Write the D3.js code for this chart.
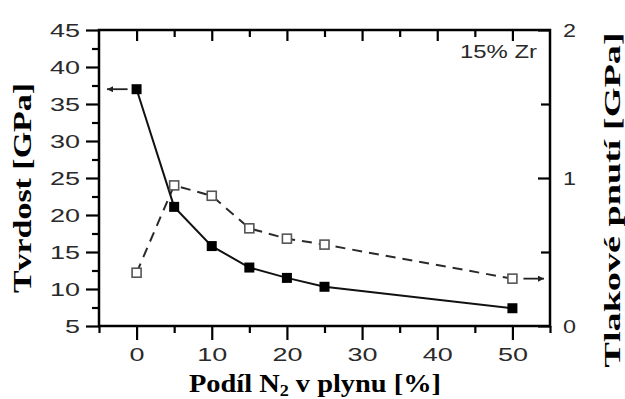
<!DOCTYPE html>
<html><head><meta charset="utf-8">
<script src="https://cdn.jsdelivr.net/npm/d3@7"></script>
<style>body{margin:0;background:#fff} svg{display:block}</style>
</head><body>
<svg id="c" width="625" height="399"></svg>
<script>
// ---- data ----
const nitrogen = [0, 5, 10, 15, 20, 25, 50];
const hardness = [37.0, 21.1, 15.8, 12.9, 11.5, 10.3, 7.4];
const stress = [0.36, 0.95, 0.88, 0.66, 0.59, 0.55, 0.32];
const xMajorTicks = [0, 10, 20, 30, 40, 50];
const yLeftMajorTicks = [5, 10, 15, 20, 25, 30, 35, 40, 45];
const yRightMajorTicks = [0, 1, 2];
const annotation = "15% Zr";
const xTitle = ["Podíl N", "2", " v plynu [%]"];
const yLeftTitle = "Tvrdost [GPa]";
const yRightTitle = "Tlakové pnutí [GPa]";

// ---- layout ----
const L = 99, R = 550, T = 30, B = 326;
const svg = d3.select("#c");
const x = d3.scaleLinear().domain([-5, 55]).range([L, R]);
const yL = d3.scaleLinear().domain([5, 45]).range([B, T]);
const yR = d3.scaleLinear().domain([0, 2]).range([B, T]);

const sans = "'Liberation Sans', Arial, sans-serif";
const serif = "'Liberation Serif', 'Times New Roman', serif";
const labelColor = "#2a2a2a";

function styleAxis(g) {
  g.select(".domain").remove();
  g.selectAll(".tick line").attr("stroke", "#000").attr("stroke-width", 2.2);
  g.selectAll(".tick text").attr("font-family", sans).attr("font-size", 19).attr("fill", labelColor);
}

// frame
svg.append("rect").attr("x", L).attr("y", T).attr("width", R - L).attr("height", B - T)
  .attr("fill", "none").attr("stroke", "#000").attr("stroke-width", 2.5);

// left axis
const gl = svg.append("g").attr("transform", `translate(${L},0)`)
  .call(d3.axisLeft(yL).tickValues(d3.range(5, 45.01, 2.5))
    .tickFormat(d => yLeftMajorTicks.includes(d) ? d : ""));
styleAxis(gl);
gl.selectAll(".tick line").attr("x2", d => yLeftMajorTicks.includes(d) ? -13 : -7);
gl.selectAll(".tick text").attr("x", -19).attr("dy", "0.35em")
  .filter(d => yLeftMajorTicks.includes(d))
  .attr("textLength", d => String(d).length * 15).attr("lengthAdjust", "spacingAndGlyphs");

// bottom axis
const gb = svg.append("g").attr("transform", `translate(0,${B})`)
  .call(d3.axisBottom(x).tickValues(d3.range(-5, 55.01, 5))
    .tickFormat(d => xMajorTicks.includes(d) ? d : ""));
styleAxis(gb);
gb.selectAll(".tick line").attr("y2", d => xMajorTicks.includes(d) ? 14 : 7);
gb.selectAll(".tick text").attr("y", 35).attr("dy", 0)
  .filter(d => xMajorTicks.includes(d))
  .attr("textLength", d => String(d).length * 15).attr("lengthAdjust", "spacingAndGlyphs");

// top axis (inward ticks)
const gt = svg.append("g").attr("transform", `translate(0,${T})`)
  .call(d3.axisTop(x).tickValues(d3.range(0, 50.01, 5)).tickFormat(""));
styleAxis(gt);
gt.selectAll(".tick line").attr("y2", d => xMajorTicks.includes(d) ? 11 : 7);

// right axis (inward ticks)
const gr = svg.append("g").attr("transform", `translate(${R},0)`)
  .call(d3.axisRight(yR).tickValues(d3.range(0, 2.01, 0.5))
    .tickFormat(d => yRightMajorTicks.includes(d) ? d : ""));
styleAxis(gr);
gr.selectAll(".tick line").attr("x2", d => yRightMajorTicks.includes(d) ? -12 : -9);
gr.selectAll(".tick text").attr("x", 13).attr("dy", "0.35em")
  .filter(d => yRightMajorTicks.includes(d))
  .attr("textLength", 13).attr("lengthAdjust", "spacingAndGlyphs");

// arrow marker
const defs = svg.append("defs");
defs.append("marker").attr("id", "ah").attr("viewBox", "0 0 10 10")
  .attr("refX", 10).attr("refY", 5).attr("markerWidth", 9).attr("markerHeight", 6)
  .attr("markerUnits", "userSpaceOnUse").attr("orient", "auto")
  .append("path").attr("d", "M0,0 L10,5 L0,10 Z").attr("fill", "#222");

const pts = nitrogen.map((n, i) => ({ n, h: hardness[i], s: stress[i] }));

// stress dashed line
svg.append("path").datum(pts)
  .attr("d", d3.line().x(d => x(d.n)).y(d => yR(d.s)))
  .attr("fill", "none").attr("stroke", "#2a2a2a").attr("stroke-width", 2)
  .attr("stroke-dasharray", "10,7");

// hardness solid line
svg.append("path").datum(pts)
  .attr("d", d3.line().x(d => x(d.n)).y(d => yL(d.h)))
  .attr("fill", "none").attr("stroke", "#111").attr("stroke-width", 2);

// open squares
const so = 9;
svg.selectAll(".os").data(pts).enter().append("rect")
  .attr("x", d => x(d.n) - so / 2).attr("y", d => yR(d.s) - so / 2)
  .attr("width", so).attr("height", so)
  .attr("fill", "#fff").attr("stroke", "#555").attr("stroke-width", 1.6);

// filled squares
const sf = 10;
svg.selectAll(".fs").data(pts).enter().append("rect")
  .attr("x", d => x(d.n) - sf / 2).attr("y", d => yL(d.h) - sf / 2)
  .attr("width", sf).attr("height", sf).attr("fill", "#000");

// arrows indicating axes
const first = pts[0], last = pts[pts.length - 1];
svg.append("line")
  .attr("x1", x(first.n) - 9).attr("x2", L + 8)
  .attr("y1", yL(first.h)).attr("y2", yL(first.h))
  .attr("stroke", "#222").attr("stroke-width", 1.8).attr("marker-end", "url(#ah)");
svg.append("line")
  .attr("x1", x(last.n) + 11).attr("x2", R - 6)
  .attr("y1", yR(last.s)).attr("y2", yR(last.s))
  .attr("stroke", "#222").attr("stroke-width", 1.8).attr("marker-end", "url(#ah)");

// annotation
svg.append("text").attr("x", 460).attr("y", 58).text(annotation)
  .attr("font-family", sans).attr("font-size", 18.5).attr("fill", labelColor)
  .attr("textLength", 77).attr("lengthAdjust", "spacingAndGlyphs");

// axis titles
const xt = svg.append("text").attr("x", 189).attr("y", 392)
  .attr("font-family", serif).attr("font-weight", "bold").attr("font-size", 25).attr("fill", "#000")
  .attr("textLength", 252).attr("lengthAdjust", "spacingAndGlyphs");
xt.append("tspan").text(xTitle[0]);
xt.append("tspan").text(xTitle[1]).attr("font-size", 16).attr("dy", 4);
xt.append("tspan").text(xTitle[2]).attr("dy", -4);

svg.append("text").attr("transform", "translate(31,188) rotate(-90)")
  .attr("text-anchor", "middle").text(yLeftTitle)
  .attr("font-family", serif).attr("font-weight", "bold").attr("font-size", 25).attr("fill", "#000")
  .attr("textLength", 210).attr("lengthAdjust", "spacingAndGlyphs");

svg.append("text").attr("transform", "translate(620,200) rotate(-90)")
  .attr("text-anchor", "middle").text(yRightTitle)
  .attr("font-family", serif).attr("font-weight", "bold").attr("font-size", 24).attr("fill", "#000")
  .attr("textLength", 335).attr("lengthAdjust", "spacingAndGlyphs");
</script>
</body></html>
